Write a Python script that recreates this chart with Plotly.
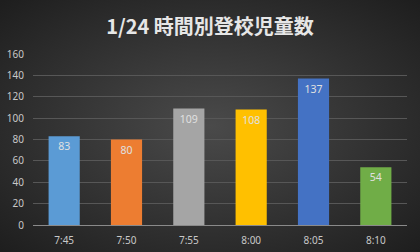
import base64
import plotly.graph_objects as go

categories = ["7:45", "7:50", "7:55", "8:00", "8:05", "8:10"]
values = [83, 80, 109, 108, 137, 54]
bar_colors = ["#5b9bd5", "#ed7d31", "#a5a5a5", "#ffc000", "#4472c4", "#70ad47"]
title_text = "1/24 時間別登校児童数"

W, H = 420, 252
ml, mr, mt, mb = 33, 13, 54, 27
pw, ph = W - ml - mr, H - mt - mb

svg = f'''<svg xmlns="http://www.w3.org/2000/svg" width="{W}" height="{H}" viewBox="0 0 {W} {H}" preserveAspectRatio="none">
<defs><radialGradient id="g" cx="50%" cy="50%" r="70%">
<stop offset="0%" stop-color="#4a4a4a"/><stop offset="100%" stop-color="#1e1e1e"/></radialGradient></defs>
<rect width="{W}" height="{H}" fill="url(#g)"/></svg>'''
src = "data:image/svg+xml;base64," + base64.b64encode(svg.encode()).decode()

fig = go.Figure(go.Bar(
    x=categories, y=values, width=0.5,
    marker=dict(color=bar_colors, line=dict(width=0)),
    text=[str(v) for v in values], textposition="inside", insidetextanchor="end",
    textfont=dict(color="#e0e0e0", size=10.5, family="Noto Sans"),
))
fig.update_layout(
    width=W, height=H,
    margin=dict(l=ml, r=mr, t=mt, b=mb, autoexpand=False),
    paper_bgcolor="#2c2c2c", plot_bgcolor="rgba(0,0,0,0)",
    title=dict(text=f"<b>{title_text}</b>", x=0.5, xanchor="center", y=1 - 27 / H, yanchor="middle",
               font=dict(family="Noto Sans CJK JP", size=20, color="#e6e6e6")),
    showlegend=False,
    images=[dict(source=src, xref="paper", yref="paper",
                 x=-ml / pw, y=1 + mt / ph, sizex=W / pw, sizey=H / ph,
                 xanchor="left", yanchor="top", sizing="stretch", layer="below")],
    xaxis=dict(showgrid=False, showline=True, linecolor="#8a8a8a", linewidth=1, automargin=False,
               tickfont=dict(family="Noto Sans", size=10, color="#c8c8c8"), ticks="", ticklabelstandoff=6),
    yaxis=dict(range=[0, 160], dtick=20, showgrid=True, gridcolor="#575757", gridwidth=1, automargin=False,
               zeroline=False, showline=False, ticks="",
               tickfont=dict(family="Noto Sans", size=10, color="#c8c8c8"), ticklabelstandoff=8),
)
fig.write_html("out.html")
